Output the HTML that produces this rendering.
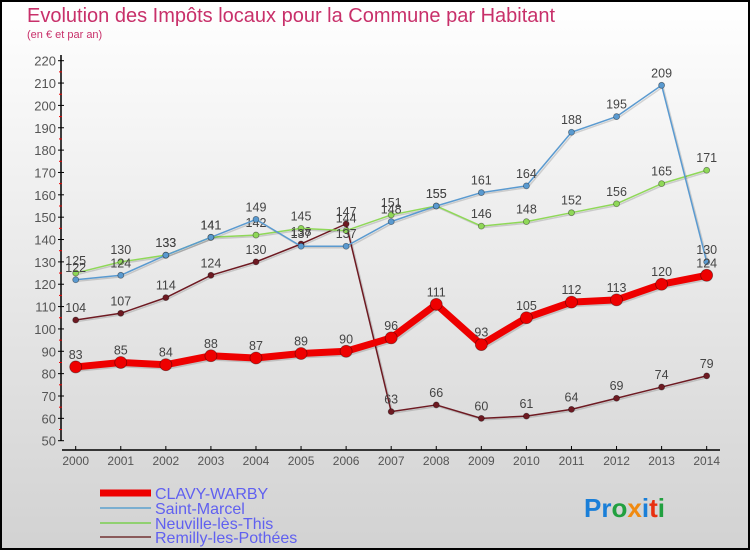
<!DOCTYPE html>
<html><head><meta charset="utf-8"><style>
body{margin:0;width:750px;height:550px;overflow:hidden}
svg{display:block;font-family:"Liberation Sans",sans-serif}
</style></head><body>
<svg id="c" width="750" height="550">
<defs><linearGradient id="bg" x1="0" y1="0" x2="0" y2="1"><stop offset="0" stop-color="#ffffff"/><stop offset="1" stop-color="#d2d2d2"/></linearGradient></defs>
<rect x="1" y="1" width="748" height="548" fill="url(#bg)" stroke="#000" stroke-width="2"/>
<text x="27" y="22" font-size="20" fill="#c8306a">Evolution des Impôts locaux pour la Commune par Habitant</text>
<text x="27" y="38" font-size="11" fill="#c8306a">(en € et par an)</text>
<g id="axes"></g><g id="series"></g><g id="legend"></g>
<text x="584" y="517" font-size="26" font-weight="bold"><tspan fill="#1a7fd8">Pr</tspan><tspan fill="#22a040">o</tspan><tspan fill="#f08a10">x</tspan><tspan fill="#1a7fd8">i</tspan><tspan fill="#e83010">t</tspan><tspan fill="#22a040">i</tspan></text>
</svg>
<script>
const years=[2000,2001,2002,2003,2004,2005,2006,2007,2008,2009,2010,2011,2012,2013,2014];
const clavy=[83,85,84,88,87,89,90,96,111,93,105,112,113,120,124];
const saintMarcel=[122,124,133,141,149,137,137,148,155,161,164,188,195,209,130];
const neuville=[125,130,133,141,142,145,144,151,155,146,148,152,156,165,171];
const remilly=[104,107,114,124,130,138,147,63,66,60,61,64,69,74,79];
const yTicks=[50,60,70,80,90,100,110,120,130,140,150,160,170,180,190,200,210,220];
const NS="http://www.w3.org/2000/svg";
const X=i=>75.7+i*45.07, Y=v=>440.7-(v-50)*(380/170);
function mk(t,a,p){const e=document.createElementNS(NS,t);for(const k in a)e.setAttribute(k,a[k]);p.appendChild(e);return e;}
const ax=document.getElementById('axes');
let l=mk('line',{x1:61,y1:55,x2:61,y2:441,stroke:'#000','stroke-width':1.5},ax);


l=mk('line',{x1:62,y1:450,x2:720,y2:450,stroke:'#000','stroke-width':1.5},ax);


yTicks.forEach(v=>{
 mk('line',{x1:58,y1:Y(v),x2:64,y2:Y(v),stroke:'#000'},ax);
 if(v<220) mk('line',{x1:59,y1:Y(v+5),x2:62,y2:Y(v+5),stroke:'#e00'},ax);
 const t=mk('text',{x:56,y:Y(v)+5,'text-anchor':'end','font-size':13,fill:'#555'},ax);t.textContent=v;
 
 
});
years.forEach((yr,i)=>{
 mk('line',{x1:X(i),y1:446,x2:X(i),y2:450,stroke:'#000'},ax);
 const t=mk('text',{x:X(i),y:465,'text-anchor':'middle','font-size':12,fill:'#555'},ax);t.textContent=yr;
 
 
});
const sg=document.getElementById('series');
function series(data,color,w,r,name){
 const g=mk('g',{},sg);
 
 
 const pts=data.map((v,i)=>X(i)+','+Y(v)).join(' ');
 mk('polyline',{points:data.map((v,i)=>(X(i)+1.5)+','+(Y(v)+1.5)).join(' '),fill:'none',stroke:'rgba(0,0,0,0.15)','stroke-width':w},g);
 mk('polyline',{points:pts,fill:'none',stroke:color,'stroke-width':w,'stroke-linejoin':'round'},g);
 data.forEach((v,i)=>{
  const c=mk('circle',{cx:X(i),cy:Y(v),r:r,fill:color,stroke:'rgba(0,0,0,0.4)','stroke-width':0.8},g);
  
  
  const t=mk('text',{x:X(i),y:Y(v)-8,'text-anchor':'middle','font-size':12.5,fill:'#444'},g);t.textContent=v;
  
  
 });
}
series(remilly,'#6e1a22',1.5,3,'series-remilly');
series(neuville,'#8fd858',1.5,3,'series-neuville');
series(saintMarcel,'#5a9ad0',1.5,3,'series-saint-marcel');
series(clavy,'#ee0000',7,6,'series-clavy');
const lg=document.getElementById('legend');
[['CLAVY-WARBY','#ee0000',7,493],['Saint-Marcel','#7aaed0',2,508],['Neuville-lès-This','#90d070',2,523],['Remilly-les-Pothées','#8a5a5a',2,537]].forEach(d=>{
 const g=mk('g',{},lg);
 
 
 mk('line',{x1:100,y1:d[3],x2:151,y2:d[3],stroke:d[1],'stroke-width':d[2]},g);
 const t=mk('text',{x:155,y:d[3]+6,'font-size':16,fill:'#6060f0'},g);t.textContent=d[0];
});
</script>
</body></html>
